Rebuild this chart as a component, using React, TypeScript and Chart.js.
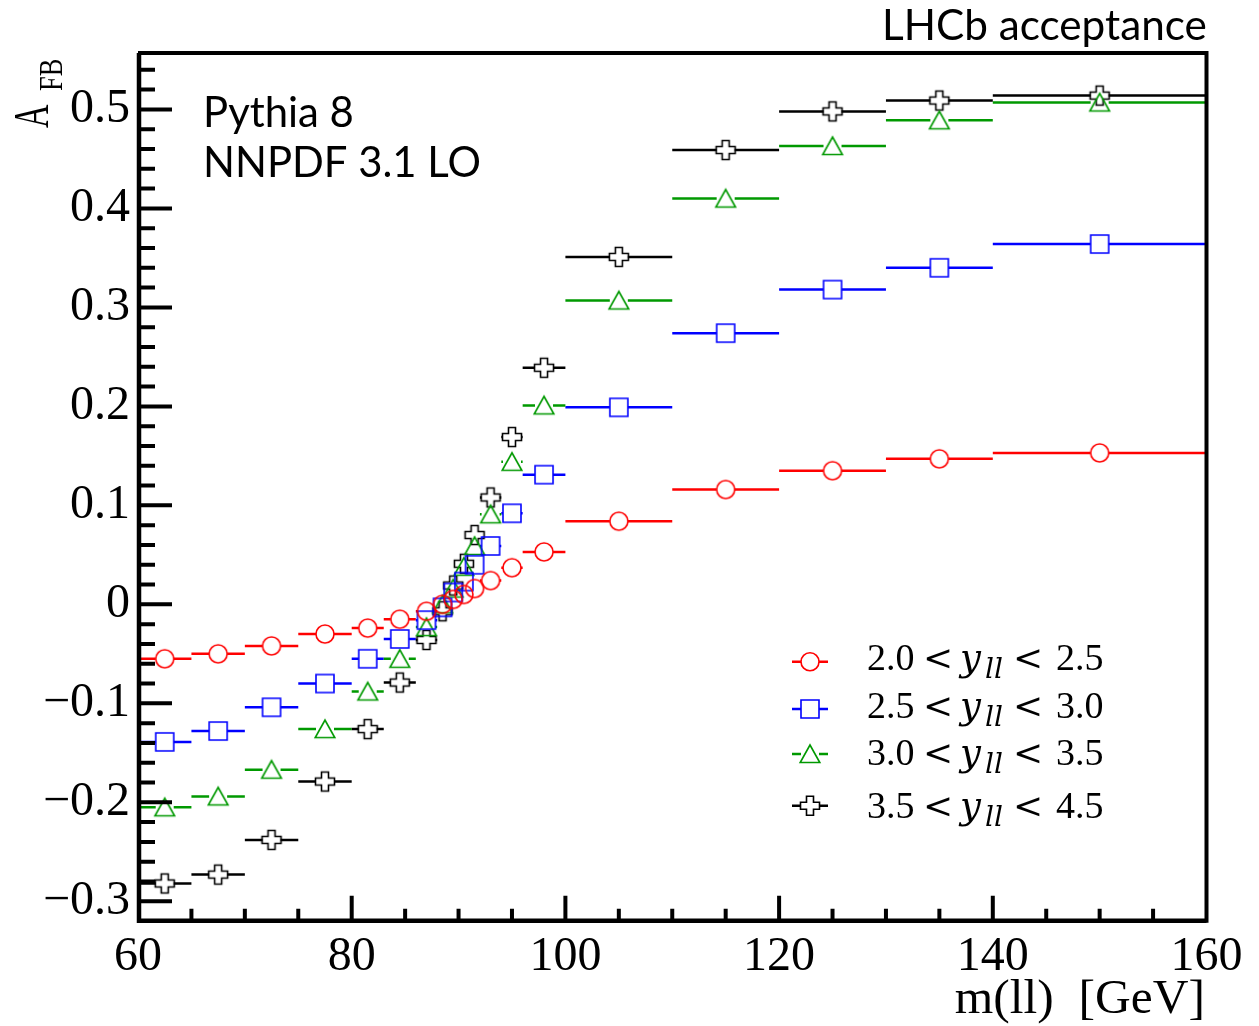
import React, { useEffect, useRef } from "react";
import { Chart, registerables } from "chart.js";

Chart.register(...registerables);

// m(ll) bins [GeV]
const BIN_EDGES = [60, 65, 70, 75, 80, 83, 86, 88, 89, 90, 91, 92, 94, 96, 100, 110, 120, 130, 140, 160];
const BIN_CENTERS = [62.5, 67.5, 72.5, 77.5, 81.5, 84.5, 87, 88.5, 89.5, 90.5, 91.5, 93, 95, 98, 105, 115, 125, 135, 150];

// A_FB per rapidity bin
const AFB_Y_20_25 = [-0.055, -0.05, -0.042, -0.03, -0.024, -0.015, -0.007, 0.0, 0.005, 0.01, 0.016, 0.024, 0.037, 0.053, 0.084, 0.116, 0.135, 0.147, 0.153];
const AFB_Y_25_30 = [-0.139, -0.128, -0.104, -0.08, -0.055, -0.035, -0.016, -0.003, 0.012, 0.023, 0.04, 0.059, 0.092, 0.131, 0.199, 0.274, 0.318, 0.34, 0.364];
const AFB_Y_30_35 = [-0.205, -0.194, -0.167, -0.126, -0.088, -0.055, -0.023, 0.0, 0.016, 0.038, 0.059, 0.091, 0.144, 0.201, 0.307, 0.41, 0.463, 0.489, 0.507];
const AFB_Y_35_45 = [-0.282, -0.273, -0.238, -0.179, -0.126, -0.079, -0.036, -0.007, 0.019, 0.041, 0.07, 0.108, 0.169, 0.239, 0.351, 0.459, 0.498, 0.509, 0.514];

const RAPIDITY_LOW = ["2.0", "2.5", "3.0", "3.5"];
const RAPIDITY_HIGH = ["2.5", "3.0", "3.5", "4.5"];

const X_TICKS = [60, 80, 100, 120, 140, 160];
const Y_TICKS = [-0.3, -0.2, -0.1, 0, 0.1, 0.2, 0.3, 0.4, 0.5];
const X_MINOR_STEP = 5;
const Y_MINOR_STEP = 0.02;

const W = 1259;
const H = 1026;
const AREA = { left: 138, right: 1206.5, top: 53, bottom: 920.8 };
const SERIF = '"Liberation Serif", "Times New Roman", serif';
const MATH = '"DejaVu Serif", serif';
const SANS = 'Lato, "Open Sans", sans-serif';

type MarkerKind = "circle" | "square" | "triangle" | "cross";

const SERIES: { values: number[]; color: string; marker: MarkerKind }[] = [
  { values: AFB_Y_20_25, color: "#ff0000", marker: "circle" },
  { values: AFB_Y_25_30, color: "#0000ff", marker: "square" },
  { values: AFB_Y_30_35, color: "#009900", marker: "triangle" },
  { values: AFB_Y_35_45, color: "#000000", marker: "cross" },
];

const GAP = 9; // error bar stops at marker edge

function drawMarker(ctx: CanvasRenderingContext2D, kind: MarkerKind, cx: number, cy: number, color: string) {
  ctx.save();
  ctx.strokeStyle = color;
  ctx.lineWidth = 1.6;
  ctx.lineJoin = "miter";
  ctx.beginPath();
  if (kind === "circle") {
    ctx.arc(cx, cy, 9, 0, Math.PI * 2);
  } else if (kind === "square") {
    ctx.rect(cx - 9, cy - 9, 18, 18);
  } else if (kind === "triangle") {
    ctx.moveTo(cx, cy - 9);
    ctx.lineTo(cx + 9.8, cy + 8.5);
    ctx.lineTo(cx - 9.8, cy + 8.5);
    ctx.closePath();
  } else {
    const s = 9.5;
    const a = 3.5;
    const pts = [
      [-a, -s], [a, -s], [a, -a], [s, -a], [s, a], [a, a],
      [a, s], [-a, s], [-a, a], [-s, a], [-s, -a], [-a, -a],
    ];
    pts.forEach(([px, py], i) => (i ? ctx.lineTo(cx + px, cy + py) : ctx.moveTo(cx + px, cy + py)));
    ctx.closePath();
  }
  ctx.stroke();
  ctx.restore();
}

function markerImage(kind: MarkerKind, color: string) {
  const c = document.createElement("canvas");
  c.width = 26;
  c.height = 26;
  const ctx = c.getContext("2d");
  if (ctx) drawMarker(ctx, kind, 13, 13, color);
  return c;
}

function fitFont(ctx: CanvasRenderingContext2D, text: string, family: string, width: number) {
  ctx.font = `100px ${family}`;
  return (100 * width) / ctx.measureText(text).width;
}

const errorBars = {
  id: "errorBars",
  beforeDatasetsDraw(chart: any) {
    const { ctx, chartArea } = chart;
    const xs = chart.scales.x;
    const ys = chart.scales.y;
    ctx.save();
    ctx.beginPath();
    ctx.rect(chartArea.left, chartArea.top, chartArea.right - chartArea.left, chartArea.bottom - chartArea.top);
    ctx.clip();
    ctx.lineWidth = 2.5;
    SERIES.forEach((s) => {
      ctx.strokeStyle = s.color;
      s.values.forEach((v, i) => {
        const xl = xs.getPixelForValue(BIN_EDGES[i]);
        const xr = xs.getPixelForValue(BIN_EDGES[i + 1]);
        const xc = xs.getPixelForValue(BIN_CENTERS[i]);
        const y = ys.getPixelForValue(v);
        ctx.beginPath();
        if (xc - GAP > xl) {
          ctx.moveTo(xl, y);
          ctx.lineTo(xc - GAP, y);
        }
        if (xr > xc + GAP) {
          ctx.moveTo(xc + GAP, y);
          ctx.lineTo(xr, y);
        }
        ctx.stroke();
      });
    });
    ctx.restore();
  },
};

const frameAndText = {
  id: "frameAndText",
  afterDatasetsDraw(chart: any) {
    const { ctx, chartArea } = chart;
    const { left: L, right: R, top: T, bottom: B } = chartArea;
    const xs = chart.scales.x;
    const ys = chart.scales.y;
    ctx.save();
    ctx.strokeStyle = "#000";
    ctx.lineCap = "butt";

    // inward ticks
    ctx.lineWidth = 4;
    ctx.beginPath();
    const kMin = Math.ceil(ys.min / Y_MINOR_STEP - 1e-6);
    const kMax = Math.floor(ys.max / Y_MINOR_STEP + 1e-6);
    for (let k = kMin; k <= kMax; k++) {
      const v = k * Y_MINOR_STEP;
      const major = Math.abs(v * 10 - Math.round(v * 10)) < 1e-6;
      const y = ys.getPixelForValue(v);
      ctx.moveTo(L, y);
      ctx.lineTo(L + (major ? 34 : 17), y);
    }
    for (let v = xs.min + X_MINOR_STEP; v < xs.max; v += X_MINOR_STEP) {
      const major = X_TICKS.includes(v);
      const x = xs.getPixelForValue(v);
      ctx.moveTo(x, B);
      ctx.lineTo(x, B - (major ? 25 : 12));
    }
    ctx.stroke();

    // frame
    ctx.lineWidth = 4.5;
    ctx.beginPath();
    ctx.moveTo(L + 1, T);
    ctx.lineTo(L + 1, B);
    ctx.lineTo(R, B);
    ctx.stroke();
    ctx.lineWidth = 4;
    ctx.beginPath();
    ctx.moveTo(L, T);
    ctx.lineTo(R, T);
    ctx.lineTo(R, B + 2);
    ctx.stroke();

    ctx.fillStyle = "#000";
    ctx.textBaseline = "alphabetic";
    ctx.textAlign = "left";

    // header texts
    const headSize = fitFont(ctx, "LHCb acceptance", SANS, 325);
    ctx.font = `${headSize}px ${SANS}`;
    ctx.fillText("LHCb acceptance", 882, 40);
    const genSize = fitFont(ctx, "NNPDF 3.1 LO", SANS, 278);
    ctx.font = `${genSize}px ${SANS}`;
    ctx.fillText("Pythia 8", 203, 127);
    ctx.fillText("NNPDF 3.1 LO", 203, 177);

    // x title
    ctx.font = `49.5px ${SERIF}`;
    ctx.textAlign = "right";
    ctx.fillText("m(ll)  [GeV]", 1205, 1013);

    // y title
    ctx.textAlign = "left";
    ctx.save();
    ctx.translate(48, 128);
    ctx.rotate(-Math.PI / 2);
    ctx.scale(0.64, 1);
    ctx.font = `51px ${SERIF}`;
    ctx.fillText("A", 0, 0);
    ctx.restore();
    ctx.save();
    ctx.translate(62, 91);
    ctx.rotate(-Math.PI / 2);
    ctx.scale(0.8, 1);
    ctx.font = `33px ${SERIF}`;
    ctx.fillText("FB", 0, 0);
    ctx.restore();

    // legend
    const rowY = [661.7, 709, 754, 805.7];
    const baseY = [670, 718, 765, 818];
    SERIES.forEach((s, i) => {
      const y = rowY[i];
      ctx.strokeStyle = s.color;
      ctx.lineWidth = 2.5;
      ctx.beginPath();
      ctx.moveTo(792, y);
      ctx.lineTo(810 - GAP, y);
      ctx.moveTo(810 + GAP, y);
      ctx.lineTo(828, y);
      ctx.stroke();
      drawMarker(ctx, s.marker, 810, y, s.color);

      const bx = 867;
      const by = baseY[i];
      ctx.fillStyle = "#000";
      ctx.font = `38px ${SERIF}`;
      ctx.fillText(RAPIDITY_LOW[i], bx, by);
      ctx.font = `36px ${MATH}`;
      ctx.fillText("<", bx + 56, by);
      ctx.font = `italic 37px ${MATH}`;
      ctx.fillText("y", bx + 93, by);
      ctx.font = `italic 28px ${MATH}`;
      ctx.fillText("ll", bx + 118, by + 8);
      ctx.font = `36px ${MATH}`;
      ctx.fillText("<", bx + 146, by);
      ctx.font = `38px ${SERIF}`;
      ctx.fillText(RAPIDITY_HIGH[i], bx + 189, by);
    });
    ctx.restore();
  },
};

function yLabel(v: number) {
  if (Math.abs(v) < 1e-9) return "0";
  const s = Math.abs(v).toFixed(1);
  return v < 0 ? "\u2212" + s : s;
}

export default function App() {
  const canvasRef = useRef<HTMLCanvasElement | null>(null);

  useEffect(() => {
    document.body.style.margin = "0";
    if (!canvasRef.current) return;

    const chart = new Chart(canvasRef.current, {
      type: "scatter",
      data: {
        datasets: SERIES.map((s, i) => ({
          label: `${RAPIDITY_LOW[i]} < y < ${RAPIDITY_HIGH[i]}`,
          data: BIN_CENTERS.map((x, j) => ({ x, y: s.values[j] })),
          pointStyle: markerImage(s.marker, s.color),
          pointRadius: 9,
          borderColor: s.color,
          backgroundColor: "rgba(0,0,0,0)",
          showLine: false,
        })),
      },
      options: {
        responsive: false,
        animation: false,
        layout: { padding: { left: 0, top: AREA.top, right: W - AREA.right, bottom: 0 } },
        plugins: { legend: { display: false }, tooltip: { enabled: false } },
        scales: {
          x: {
            type: "linear",
            min: 60,
            max: 160,
            afterBuildTicks: (s: any) => {
              s.ticks = X_TICKS.map((value) => ({ value }));
            },
            afterFit: (s: any) => {
              s.height = H - AREA.bottom;
            },
            grid: { display: false, drawTicks: false },
            border: { display: false },
            ticks: {
              color: "#000",
              font: { family: SERIF, size: 48 },
              padding: 8,
              maxRotation: 0,
              autoSkip: false,
              callback: (v: any) => String(v),
            },
          },
          y: {
            type: "linear",
            min: -0.3197,
            max: 0.557,
            afterBuildTicks: (s: any) => {
              s.ticks = Y_TICKS.map((value) => ({ value }));
            },
            afterFit: (s: any) => {
              s.width = AREA.left;
            },
            grid: { display: false, drawTicks: false },
            border: { display: false },
            ticks: {
              color: "#000",
              font: { family: SERIF, size: 48 },
              padding: 8,
              autoSkip: false,
              callback: (v: any) => yLabel(Number(v)),
            },
          },
        },
      },
      plugins: [errorBars, frameAndText],
    } as any);

    return () => {
      chart.destroy();
    };
  }, []);

  return (
    <div style={{ width: W, height: H, background: "#fff" }}>
      <canvas ref={canvasRef} width={W} height={H} style={{ display: "block" }} />
    </div>
  );
}
